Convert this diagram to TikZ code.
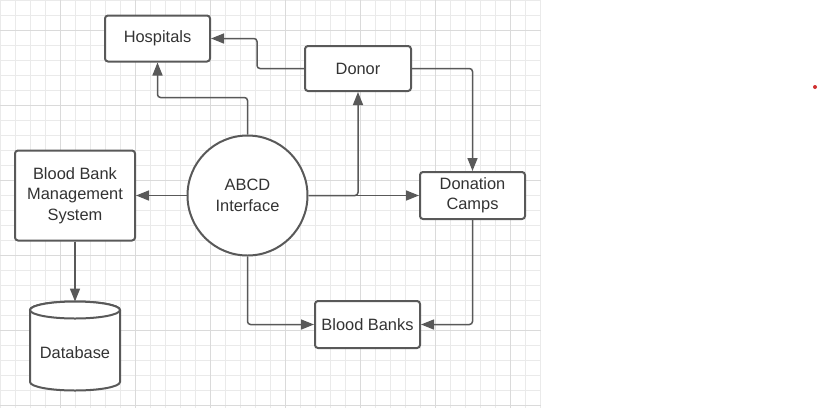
\documentclass[tikz,border=0pt]{standalone}
\usepackage{fontspec}
\setmainfont{Liberation Sans}
\usetikzlibrary{arrows.meta}
\definecolor{ln}{HTML}{595959}
\definecolor{tx}{HTML}{333333}
\definecolor{gminor}{HTML}{EAEAEA}
\definecolor{gmajor}{HTML}{DADADA}
\definecolor{dot}{HTML}{D03030}
\begin{document}
\begin{tikzpicture}[x=1pt,y=-1pt,
  box/.style={draw=ln,line width=2pt,rounded corners=3pt,fill=white,text=tx,
    font=\fontsize{16.4}{20.5}\selectfont,align=center,inner sep=0pt},
  roundbox/.style={draw=ln,line width=2pt,circle,fill=white,text=tx,
    font=\fontsize{16.4}{20.5}\selectfont,align=center,inner sep=0pt,minimum size=120pt},
  lbl/.style={text=tx,font=\fontsize{16.4}{20.5}\selectfont,align=center,inner sep=0pt},
  conn/.style={draw=ln,line width=1.5pt,rounded corners=3pt,-{Triangle[length=13pt,width=10pt]}},
  cyl/.style={draw=ln,line width=2pt,fill=white}]
\useasboundingbox (0,0) rectangle (819,408);
% grid
\foreach \x in {0,15,...,540} \draw[gminor,line width=0.7pt] (\x,0) -- (\x,408);
\foreach \y in {0,15,...,405} \draw[gminor,line width=0.7pt] (0,\y) -- (541,\y);
\foreach \x in {60,135,...,510} \draw[gmajor,line width=0.8pt] (\x,0) -- (\x,408);
\foreach \y in {30,105,...,405} \draw[gmajor,line width=0.8pt] (0,\y) -- (541,\y);
% nodes
\node[box,minimum width=105pt,minimum height=46pt] (hosp) at (157.5,38.5) {Hospitals};
\node[box,minimum width=106pt,minimum height=45pt] (donor) at (358,68.5) {Donor};
\node[box,minimum width=120pt,minimum height=90pt] (bbms) at (75,195.5) {Blood Bank\\Management\\System};
\node[roundbox] (abcd) at (247.5,195.5) {ABCD\\Interface};
\node[box,minimum width=105pt,minimum height=47pt] (dc) at (472.5,195.5) {Donation\\Camps};
\node[box,minimum width=105pt,minimum height=47pt] (bb) at (367.5,324.5) {Blood Banks};
% database cylinder
\node[minimum width=90pt,minimum height=89pt,inner sep=0pt] (db) at (75,346.2) {};
\draw[cyl] (30,310) -- (30,382) arc[start angle=180,end angle=360,x radius=45pt,y radius=8.5pt]
  -- (120,310) arc[start angle=0,end angle=180,x radius=45pt,y radius=8.5pt] -- cycle;
\draw[cyl] (75,310) ellipse[x radius=45pt,y radius=8.5pt];
\node[lbl] (dbl) at (75,353) {Database};
% connectors
\draw[conn] (abcd.north) -- ++(0,-37) -| (hosp.south);
\draw[conn] (donor.west) -- ++(-47,0) |- (hosp.east);
\draw[conn] (abcd.east) -| (donor.south);
\draw[conn] (abcd.east) -- (dc.west);
\draw[conn] (donor.east) -| (dc.north);
\draw[conn] (abcd.west) -- (bbms.east);
\draw[conn] (bbms.south) -- (db.north);
\draw[conn] (abcd.south) |- (bb.west);
\draw[conn] (dc.south) |- (bb.east);
% red dot
\fill[dot] (815,87) circle (2pt);
\end{tikzpicture}
\end{document}
